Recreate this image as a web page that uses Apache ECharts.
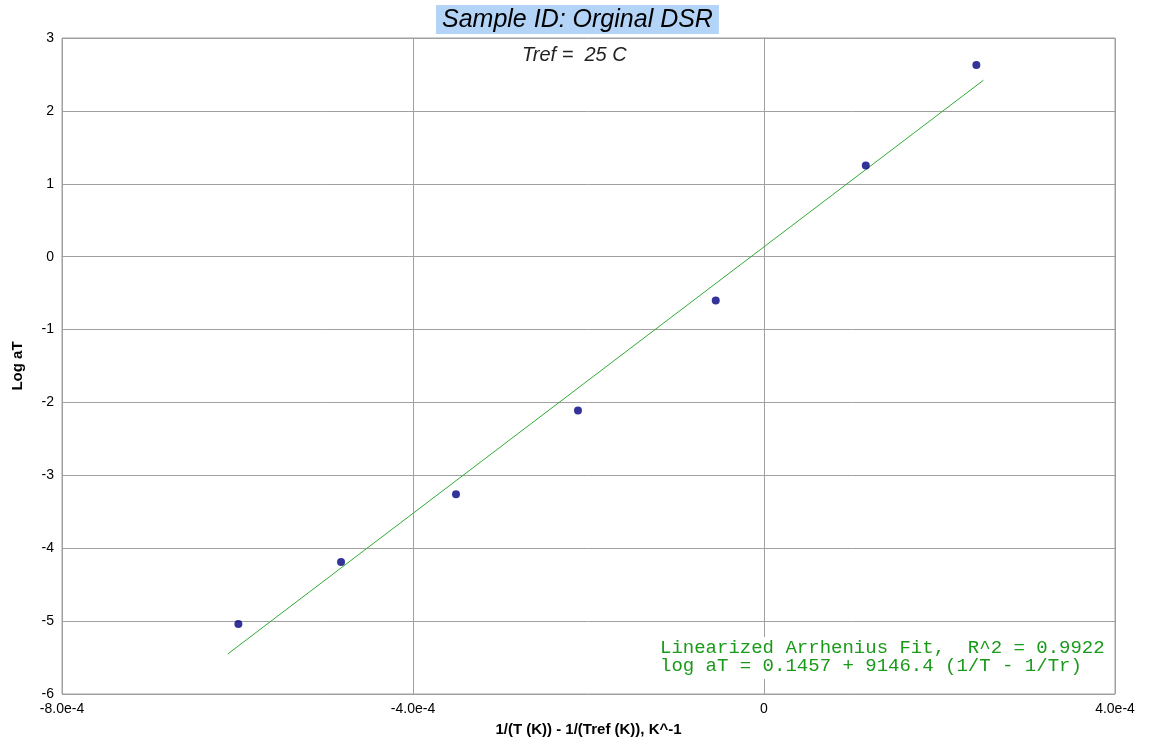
<!DOCTYPE html>
<html>
<head>
<meta charset="utf-8">
<script src="https://cdn.jsdelivr.net/npm/echarts@6/dist/echarts.min.js"></script>
<style>
html,body{margin:0;padding:0;background:#fff;}
#chart{width:1152px;height:745px;}
</style>
</head>
<body>
<div id="chart"></div>
<script>
// Measured data points: x = 1/T - 1/Tref (K^-1), y = log aT
var xValues = [-5.99e-4, -4.82e-4, -3.51e-4, -2.12e-4, -0.55e-4, 1.16e-4, 2.42e-4];
var yValues = [-5.04, -4.19, -3.26, -2.11, -0.60, 1.25, 2.63];
// Fit line endpoints
var fitX = [-6.11e-4, 2.50e-4];
var fitY = [-5.45, 2.42];
var titleText = 'Sample ID: Orginal DSR';
var subtitleText = 'Tref =  25 C';
var xAxisName = '1/(T (K)) - 1/(Tref (K)), K^-1';
var yAxisName = 'Log aT';
var fitLines = ['Linearized Arrhenius Fit,  R^2 = 0.9922', 'log aT = 0.1457 + 9146.4 (1/T - 1/Tr)'];

var pts = xValues.map(function (x, i) { return [x, yValues[i]]; });
var fit = fitX.map(function (x, i) { return [x, fitY[i]]; });

var chart = echarts.init(document.getElementById('chart'), null, {renderer: 'canvas'});
var gridColor = '#a0a0a0';
var labelFont = '"Liberation Sans Narrow", "Liberation Sans", Arial, sans-serif';

chart.setOption({
  animation: false,
  backgroundColor: '#fff',
  grid: {left: 62, right: 37, top: 38, bottom: 51, show: true, borderColor: gridColor, borderWidth: 1},
  xAxis: {
    type: 'value', min: -8e-4, max: 4e-4, interval: 4e-4,
    name: xAxisName, nameLocation: 'middle', nameGap: 28,
    nameTextStyle: {fontFamily: labelFont, fontWeight: 'bold', fontSize: 15, color: '#000'},
    axisLine: {show: true, lineStyle: {color: gridColor}},
    axisTick: {show: false},
    splitLine: {show: true, lineStyle: {color: gridColor, width: 1}},
    axisLabel: {
      color: '#000', fontFamily: labelFont, fontSize: 14, margin: 8,
      formatter: function (v) { return Math.abs(v) < 1e-12 ? '0' : v.toExponential(1); }
    }
  },
  yAxis: {
    type: 'value', min: -6, max: 3, interval: 1,
    name: yAxisName, nameLocation: 'middle', nameGap: 37, nameRotate: 90,
    nameTextStyle: {fontFamily: labelFont, fontWeight: 'bold', fontSize: 15, color: '#000'},
    axisLine: {show: true, lineStyle: {color: gridColor}},
    axisTick: {show: false},
    splitLine: {show: true, lineStyle: {color: gridColor, width: 1}},
    axisLabel: {color: '#000', fontFamily: labelFont, fontSize: 14, margin: 8}
  },
  series: [
    {
      type: 'line', data: fit, symbol: 'none', silent: true,
      lineStyle: {color: '#33aa33', width: 1}, z: 2
    },
    {
      type: 'scatter', data: pts, symbol: 'circle', symbolSize: 8,
      itemStyle: {color: '#000080'}, z: 3
    }
  ],
  graphic: [
    {
      type: 'text', left: 436, top: 5,
      style: {
        text: titleText, fill: '#000', font: 'italic 25px "Liberation Sans", Arial, sans-serif',
        backgroundColor: '#b3d4f7', padding: [3, 6, 1, 6]
      }, z: 10
    },
    {
      type: 'text', left: 522, top: 45,
      style: {text: subtitleText, fill: '#222', font: 'italic 20px "Liberation Sans", Arial, sans-serif'}, z: 10
    },
    {
      type: 'text', left: 655, top: 637,
      style: {
        text: fitLines.join('\n'), fill: '#1a9a1a',
        font: '19px "Liberation Mono", "Courier New", monospace', lineHeight: 18,
        backgroundColor: '#fff', padding: [2, 8, 4, 5]
      }, z: 10
    }
  ]
});
</script>
</body>
</html>
